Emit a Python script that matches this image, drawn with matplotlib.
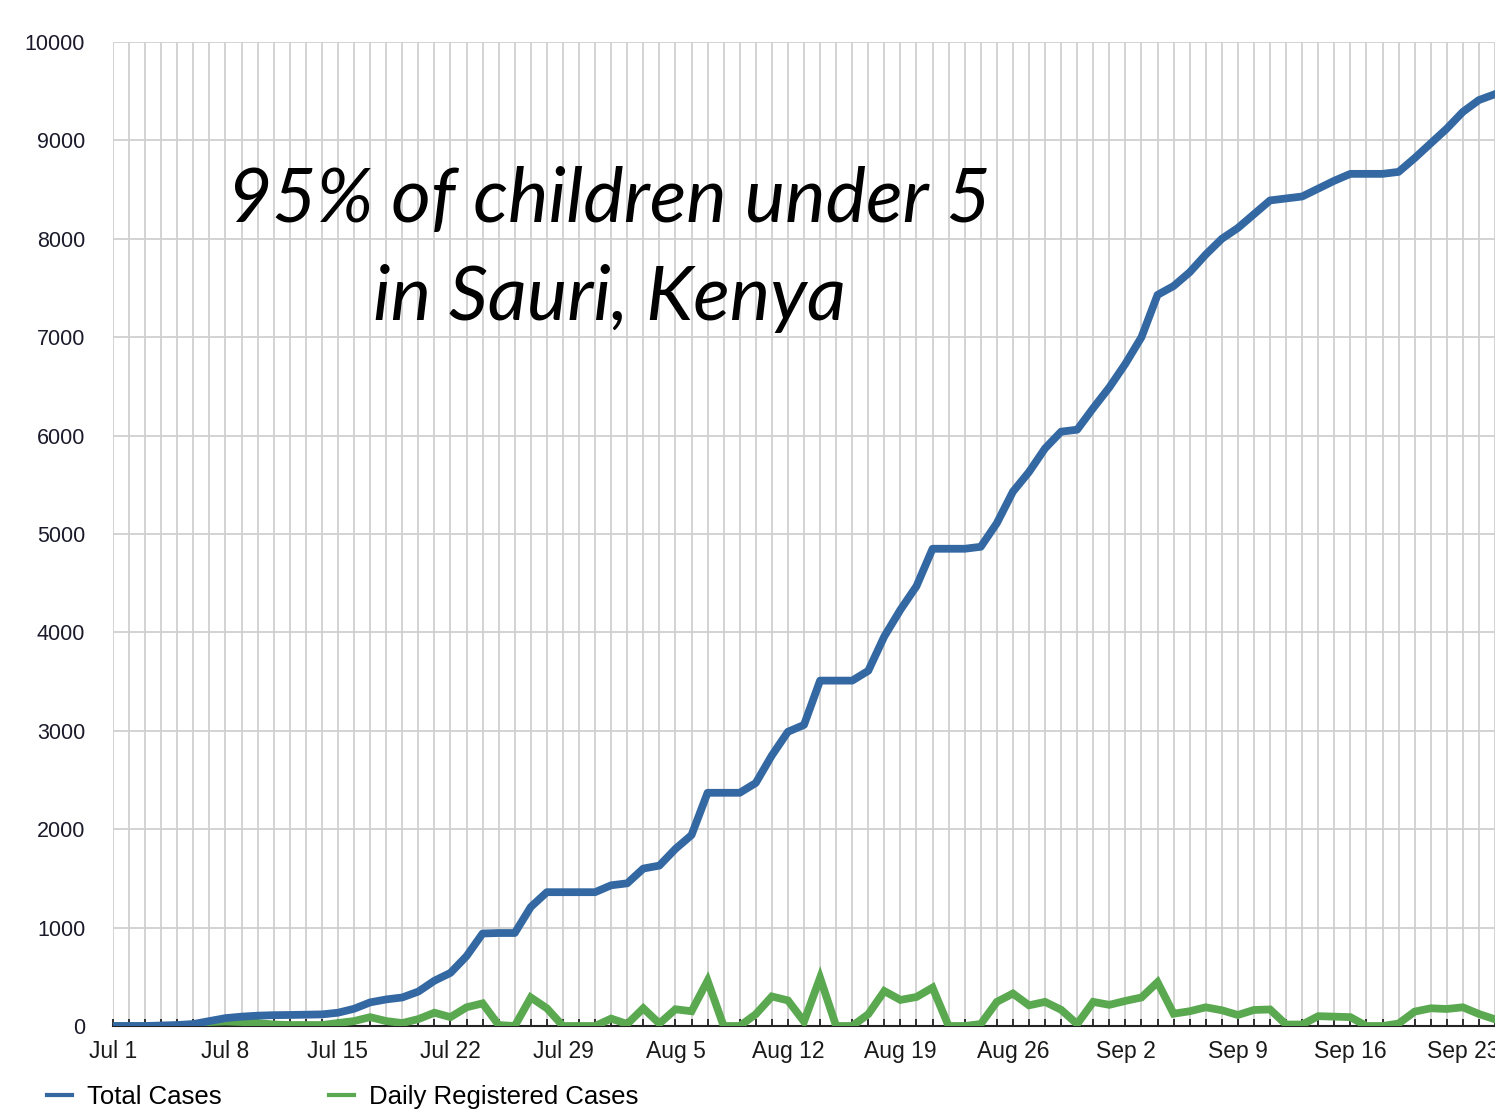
import numpy as np
import matplotlib
matplotlib.use('Agg')
import matplotlib.pyplot as plt

# Days since Jul 1
days = list(range(87))

# Cumulative cases
total_cases = [0, 0, 0, 5, 10, 20,
               50, 80, 95, 105, 110, 112, 115, 118,
               135, 175, 240, 270, 290, 350, 460, 540,
               710, 940, 945, 945, 1210, 1360, 1360, 1360,
               1360, 1430, 1450, 1600, 1630, 1800, 1940, 2370,
               2370, 2370, 2470, 2750, 2990, 3060, 3510, 3510,
               3510, 3610, 3960, 4230, 4470, 4850, 4850, 4850,
               4870, 5110, 5430, 5630, 5870, 6040, 6060, 6280,
               6490, 6730, 7000, 7430, 7520, 7660, 7840, 8000,
               8110, 8250, 8390, 8410, 8430, 8510, 8590, 8660,
               8660, 8660, 8680, 8820, 8970, 9120, 9290, 9410,
               9470]

# New cases per day
daily_cases = [0, 0, 0, 0, 0, 0,
               40, 45, 40, 30, 15, 10, 10, 10,
               30, 50, 90, 50, 30, 70, 135, 90,
               190, 230, 10, 0, 290, 180, 0, 0,
               0, 75, 20, 180, 25, 170, 150, 460,
               0, 0, 120, 300, 260, 45, 490, 0,
               0, 120, 355, 265, 295, 390, 0, 0,
               20, 245, 330, 210, 245, 165, 20, 245,
               215, 255, 290, 445, 125, 150, 190, 160,
               112, 163, 168, 15, 15, 100, 95, 90,
               0, 0, 25, 146, 180, 173, 190, 122,
               68]

tick_days = [0, 7, 14, 21, 28, 35, 42, 49, 56, 63, 70, 77, 84]
tick_labels = ['Jul 1', 'Jul 8', 'Jul 15', 'Jul 22', 'Jul 29', 'Aug 5', 'Aug 12',
               'Aug 19', 'Aug 26', 'Sep 2', 'Sep 9', 'Sep 16', 'Sep 23']
y_ticks = [0, 1000, 2000, 3000, 4000, 5000, 6000, 7000, 8000, 9000, 10000]

blue = '#3468a2'
green = '#5aa84f'
grid_col = '#d0d0d0'

plt.rcParams['font.family'] = ['Liberation Sans', 'DejaVu Sans']

fig = plt.figure(figsize=(14.95, 11.16), dpi=100)
ax = fig.add_axes([113 / 1495, 90 / 1116, 1 - 113 / 1495, 984 / 1116])

# grid: every day vertically, every 1000 horizontally
for d in days:
    ax.axvline(d, color=grid_col, lw=1.3, zorder=1)
for v in y_ticks[1:]:
    ax.axhline(v, color=grid_col, lw=1.3, zorder=1)

l2, = ax.plot(days, daily_cases, color=green, lw=5.6, zorder=3,
              solid_joinstyle='miter', label='Daily Registered Cases')
l1, = ax.plot(days, total_cases, color=blue, lw=5.6, zorder=4,
              solid_joinstyle='round', label='Total Cases')

ax.set_xlim(0, 86)
ax.set_ylim(0, 10000)

for s in ['top', 'right', 'left']:
    ax.spines[s].set_visible(False)
ax.spines['bottom'].set_color('#222222')
ax.spines['bottom'].set_linewidth(1.5)
ax.spines['bottom'].set_zorder(2)

ax.set_xticks(days, minor=True)
ax.set_xticks(tick_days)
ax.set_xticklabels(tick_labels)
ax.tick_params(axis='x', which='both', direction='in', length=5, width=1.3,
               color='#222222', labelsize=16.5, pad=10, labelcolor='#1a1a1a')
ax.set_yticks(y_ticks)
ax.set_yticklabels([str(v) for v in y_ticks])
ax.tick_params(axis='y', length=0, labelsize=15.5, pad=20, labelcolor='#1a1a2a')

fig.legend(handles=[l1, l2], loc='center left', bbox_to_anchor=(24 / 1495, 1 - 1097 / 1116),
           ncol=2, frameon=False, fontsize=18.5, handlelength=0.95, handletextpad=0.6,
           columnspacing=4.2)
for h in fig.legends[0].legend_handles:
    h.set_linewidth(3)

fig.text(609 / 1495, 1 - 222 / 1116, '95% of children under 5', ha='center', va='baseline',
         fontsize=55, style='italic', family=['Lato', 'DejaVu Sans'])
fig.text(609 / 1495, 1 - 320 / 1116, 'in Sauri, Kenya', ha='center', va='baseline',
         fontsize=55, style='italic', family=['Lato', 'DejaVu Sans'])

fig.savefig('out.png', dpi=100)
